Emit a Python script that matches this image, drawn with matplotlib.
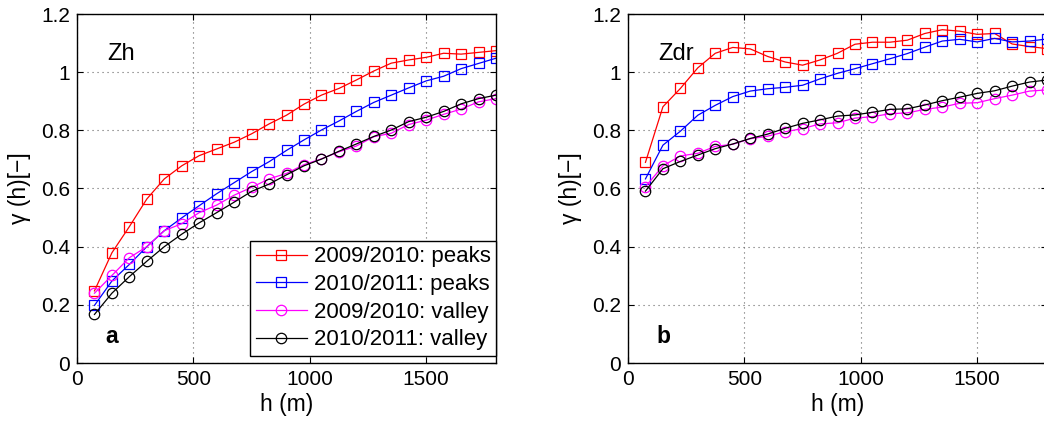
import matplotlib
matplotlib.use("Agg")
import matplotlib.pyplot as plt

plt.rcParams['font.family'] = ['Liberation Sans', 'DejaVu Sans']

h = [75, 150, 225, 300, 375, 450, 525, 600, 675, 750, 825, 900,
     975, 1050, 1125, 1200, 1275, 1350, 1425, 1500, 1575, 1650, 1725, 1800]

labels = ["2009/2010: peaks", "2010/2011: peaks", "2009/2010: valley", "2010/2011: valley"]

zh_peaks_0910 = [0.248, 0.379, 0.469, 0.564, 0.633, 0.678, 0.713, 0.736, 0.759, 0.788,
                 0.822, 0.852, 0.890, 0.921, 0.944, 0.973, 1.004, 1.031, 1.042, 1.051,
                 1.065, 1.062, 1.068, 1.074]
zh_peaks_1011 = [0.198, 0.282, 0.339, 0.400, 0.455, 0.499, 0.541, 0.582, 0.620, 0.658,
                 0.692, 0.731, 0.767, 0.801, 0.832, 0.865, 0.896, 0.921, 0.946, 0.970,
                 0.986, 1.012, 1.030, 1.048]
zh_valley_0910 = [0.240, 0.301, 0.362, 0.400, 0.455, 0.479, 0.517, 0.543, 0.577, 0.604,
                  0.633, 0.652, 0.682, 0.702, 0.726, 0.746, 0.778, 0.790, 0.820, 0.835,
                  0.855, 0.873, 0.898, 0.909]
zh_valley_1011 = [0.167, 0.240, 0.297, 0.350, 0.400, 0.443, 0.482, 0.517, 0.553, 0.590,
                  0.615, 0.647, 0.678, 0.701, 0.728, 0.753, 0.779, 0.801, 0.830, 0.845,
                  0.865, 0.891, 0.909, 0.921]

zdr_peaks_0910 = [0.690, 0.881, 0.944, 1.015, 1.065, 1.085, 1.080, 1.054, 1.035, 1.024,
                  1.042, 1.065, 1.096, 1.103, 1.103, 1.110, 1.133, 1.146, 1.141, 1.130,
                  1.133, 1.097, 1.088, 1.081]
zdr_peaks_1011 = [0.633, 0.749, 0.797, 0.852, 0.886, 0.916, 0.935, 0.943, 0.948, 0.955,
                  0.977, 0.996, 1.012, 1.029, 1.046, 1.064, 1.086, 1.107, 1.113, 1.104,
                  1.116, 1.104, 1.107, 1.114]
zdr_valley_0910 = [0.606, 0.678, 0.712, 0.721, 0.745, 0.752, 0.771, 0.780, 0.795, 0.806,
                   0.822, 0.826, 0.842, 0.847, 0.857, 0.860, 0.872, 0.880, 0.893, 0.895,
                   0.909, 0.921, 0.935, 0.939]
zdr_valley_1011 = [0.591, 0.668, 0.693, 0.715, 0.737, 0.753, 0.772, 0.787, 0.807, 0.824,
                   0.836, 0.849, 0.853, 0.862, 0.872, 0.874, 0.887, 0.902, 0.914, 0.927,
                   0.936, 0.952, 0.966, 0.973]

colors = ['#ff0000', '#0000ff', '#ff00ff', '#000000']
markers = ['s', 's', 'o', 'o']

fig = plt.figure(figsize=(10.44, 4.23), dpi=100)
ax1 = fig.add_axes([77/1044, 60/423, 419/1044, 349/423])
ax2 = fig.add_axes([628/1044, 60/423, 419/1044, 349/423])

panels = [
    (ax1, [zh_peaks_0910, zh_peaks_1011, zh_valley_0910, zh_valley_1011], "Zh", "a"),
    (ax2, [zdr_peaks_0910, zdr_peaks_1011, zdr_valley_0910, zdr_valley_1011], "Zdr", "b"),
]

for ax, series, name, letter in panels:
    for ys, c, m, lab in zip(series, colors, markers, labels):
        ax.plot(h, ys, color=c, marker=m, markersize=7.5, markerfacecolor='none',
                markeredgecolor=c, markeredgewidth=0.9, linewidth=0.9, label=lab)
    ax.set_xlim(0, 1800)
    ax.set_ylim(0, 1.2)
    ax.set_xticks([0, 500, 1000, 1500])
    ax.set_yticks([0, 0.2, 0.4, 0.6, 0.8, 1.0, 1.2])
    ax.set_yticklabels(['0', '0.2', '0.4', '0.6', '0.8', '1', '1.2'])
    ax.grid(True, linestyle=(0, (1, 3.5)), color='0.4', linewidth=0.8)
    ax.tick_params(direction='in', top=True, right=True, length=4, width=0.8,
                   labelsize=15, pad=5)
    for sp in ax.spines.values():
        sp.set_linewidth(1.0)
    ax.set_xlabel('h (m)', fontsize=16.5, labelpad=3)
    ax.set_ylabel('γ (h)[−]', fontsize=16.5, labelpad=7)
    ax.text(0.0716, 0.868, name, transform=ax.transAxes, fontsize=17,
            va='baseline', ha='left')
    ax.text(0.068, 0.057, letter, transform=ax.transAxes, fontsize=16.5,
            fontweight='bold', va='baseline', ha='left')

leg = ax1.legend(loc='lower right', bbox_to_anchor=(1.0, 0.02), borderaxespad=0,
                 fontsize=16, frameon=True, fancybox=False, framealpha=1,
                 edgecolor='black', handlelength=2.3, handletextpad=0.3,
                 labelspacing=0.3, borderpad=0.25)
leg.get_frame().set_linewidth(1.0)

fig.savefig('out.png', dpi=100)
